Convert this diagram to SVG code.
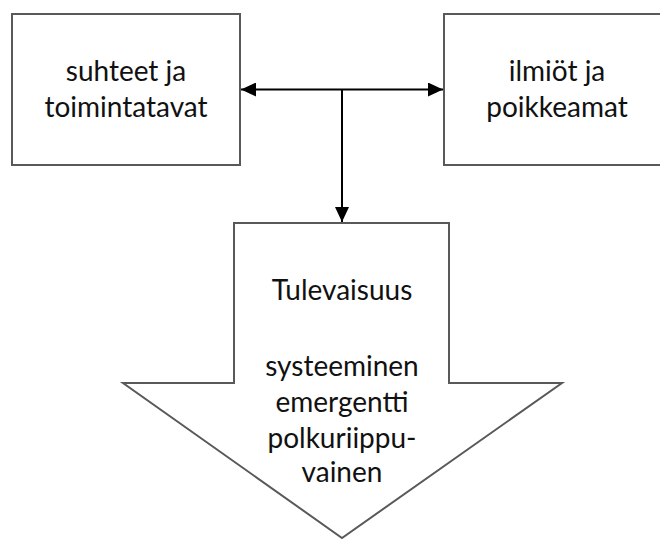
<svg xmlns="http://www.w3.org/2000/svg" width="660" height="539" viewBox="0 0 660 539">
<defs>
<style>
.box{fill:#fff;stroke:#595959;stroke-width:2}
.lbl{font-family:Lato,"Liberation Sans",sans-serif;font-size:28px;fill:#111;text-anchor:middle}
.con{stroke:#000;stroke-width:2;fill:none}
</style>
<marker id="ah" viewBox="0 0 15 14" refX="15" refY="7" markerWidth="15" markerHeight="14" markerUnits="userSpaceOnUse" orient="auto-start-reverse">
<path d="M0,0 L15,7 L0,14 Z" fill="#000"/>
</marker>
</defs>
<g id="node-suhteet">
<rect class="box" x="12" y="14" width="228" height="151"/>
<text class="lbl" x="126" y="81">suhteet ja</text>
<text class="lbl" x="126" y="117">toimintatavat</text>
</g>
<g id="node-ilmiot">
<rect class="box" x="444" y="14" width="230" height="151"/>
<text class="lbl" x="557" y="81">ilmiöt ja</text>
<text class="lbl" x="557" y="117">poikkeamat</text>
</g>
<g id="node-tulevaisuus">
<path class="box" d="M234,223 L449,223 L449,383 L562,383 L342,538 L123,383 L234,383 Z"/>
<text class="lbl" x="342" y="300">Tulevaisuus</text>
<text class="lbl" x="342" y="376">systeeminen</text>
<text class="lbl" x="342" y="412">emergentti</text>
<text class="lbl" x="342" y="448">polkuriippu-</text>
<text class="lbl" x="342" y="482">vainen</text>
</g>
<g id="connectors">
<line class="con" x1="241" y1="89.5" x2="443" y2="89.5" marker-start="url(#ah)" marker-end="url(#ah)"/>
<line class="con" x1="342" y1="89.5" x2="342" y2="222" marker-end="url(#ah)"/>
</g>
</svg>
